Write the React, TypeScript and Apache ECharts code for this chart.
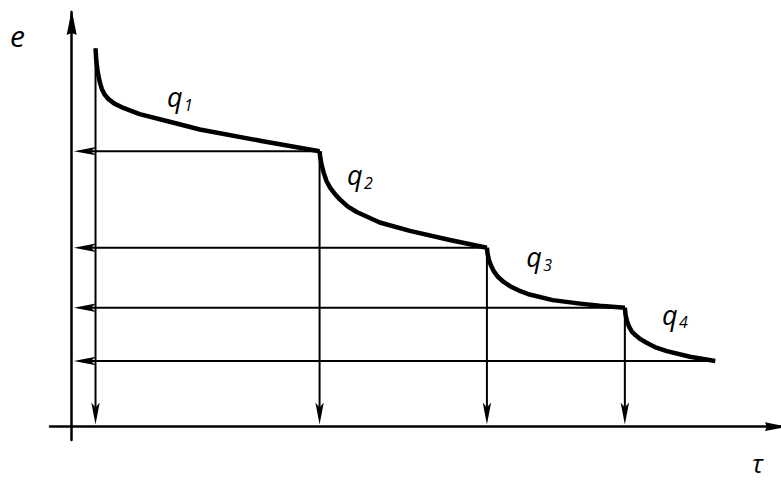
import React, { useEffect, useRef } from "react";
import * as echarts from "echarts";

// Curve segments q1..q4 as [τ, e] pairs (arbitrary units)
const segment1: [number, number][] = [
  [0.34, 5.41], [0.35, 5.25], [0.37, 5.08], [0.4, 4.93], [0.43, 4.83], [0.47, 4.75], [0.53, 4.68],
  [0.61, 4.62], [0.71, 4.57], [0.97, 4.47], [1.4, 4.36], [1.83, 4.25], [2.69, 4.09], [3.54, 3.94],
];
const segment2: [number, number][] = [
  [3.54, 3.94], [3.55, 3.85], [3.57, 3.74], [3.6, 3.63], [3.64, 3.51], [3.69, 3.42], [3.75, 3.34],
  [3.83, 3.25], [3.94, 3.15], [4.07, 3.07], [4.4, 2.92], [4.83, 2.8], [5.4, 2.67], [5.93, 2.56],
];
const segment3: [number, number][] = [
  [5.93, 2.56], [5.94, 2.47], [5.96, 2.38], [5.99, 2.3], [6.03, 2.22], [6.09, 2.14], [6.17, 2.07],
  [6.26, 2.01], [6.38, 1.95], [6.54, 1.89], [6.87, 1.81], [7.26, 1.76], [7.54, 1.73], [7.9, 1.7],
];
const segment4: [number, number][] = [
  [7.9, 1.7], [7.91, 1.6], [7.93, 1.51], [7.96, 1.43], [8.0, 1.36], [8.05, 1.31], [8.11, 1.26],
  [8.21, 1.2], [8.35, 1.13], [8.5, 1.08], [8.83, 1.0], [9.19, 0.94],
];

const arrowTipTau = 0.03;
const arrowTipE = 0.03;

const qLabelPos: [number, number][] = [[1.36, 4.72], [3.93, 3.6], [6.49, 2.43], [8.43, 1.61]];
const qSubscripts = ["1", "2", "3", "4"];

const FONT = '"Open Sans", "DejaVu Sans", sans-serif';

export default function App() {
  const ref = useRef<HTMLDivElement>(null);
  useEffect(() => {
    const chart = echarts.init(ref.current!, null, { renderer: "svg" });
    const segments = [segment1, segment2, segment3, segment4];
    const hArrows = segments.map((s) => {
      const end = s[s.length - 1];
      return [end[0], end[1], arrowTipTau, end[1]];
    });
    const vArrows = segments.map((s) => [s[0][0], s[0][1], s[0][0], arrowTipE]);

    const renderArrow = (params: any, api: any) => {
      const p1 = api.coord([api.value(0), api.value(1)]);
      const p2 = api.coord([api.value(2), api.value(3)]);
      const dx = p2[0] - p1[0];
      const dy = p2[1] - p1[1];
      const len = Math.hypot(dx, dy) || 1;
      const ux = dx / len, uy = dy / len;
      const nx = -uy, ny = ux;
      const L = 22, W = 4.2, notch = 17;
      const bx = p2[0] - ux * L, by = p2[1] - uy * L;
      const mx = p2[0] - ux * notch, my = p2[1] - uy * notch;
      return {
        type: "group",
        children: [
          { type: "line", shape: { x1: p1[0], y1: p1[1], x2: mx, y2: my }, style: { stroke: "#000", lineWidth: 2 } },
          {
            type: "polygon",
            shape: { points: [[p2[0], p2[1]], [bx + nx * W, by + ny * W], [mx, my], [bx - nx * W, by - ny * W]] },
            style: { fill: "#000" },
          },
        ],
      };
    };

    const arrowPath = "path://M5,0 L10,25 L5,23 L0,25 Z";

    const labelBase = {
      show: true,
      position: [0, 0],
      align: "left",
      verticalAlign: "middle",
      fontFamily: FONT,
      fontStyle: "italic",
      color: "#000",
      opacity: 1,
    };

    chart.setOption({
      animation: false,
      backgroundColor: "#fff",
      grid: { left: 50, right: 0, top: 12, bottom: 42 },
      xAxis: {
        type: "value",
        min: -0.31,
        max: 10.13,
        axisLine: {
          onZero: true,
          lineStyle: { color: "#000", width: 2.5 },
          symbol: ["none", arrowPath],
          symbolSize: [12, 22],
          symbolOffset: [0, -5],
        },
        axisTick: { show: false },
        axisLabel: { show: false },
        splitLine: { show: false },
      },
      yAxis: {
        type: "value",
        min: -0.19,
        max: 5.93,
        axisLine: {
          onZero: true,
          lineStyle: { color: "#000", width: 2.5 },
          symbol: ["none", arrowPath],
          symbolSize: [11, 25],
          symbolOffset: [0, -10.5],
        },
        axisTick: { show: false },
        axisLabel: { show: false },
        splitLine: { show: false },
      },
      graphic: [
        { type: "text", x: 10, y: 35, style: { text: "e", font: `italic 30px ${FONT}`, fill: "#000", textVerticalAlign: "middle" } },
        {
          type: "text",
          x: 752,
          y: 463,
          style: { text: "τ", font: `italic 26px ${FONT}`, fill: "#000", textVerticalAlign: "middle" },
        },
      ],
      series: [
        {
          type: "custom",
          name: "arrows",
          silent: true,
          renderItem: renderArrow,
          encode: { x: [0, 2], y: [1, 3] },
          data: [...hArrows, ...vArrows],
          z: 2,
        },
        ...segments.map((s, i) => ({
          type: "line",
          name: `q${i + 1}`,
          data: s,
          showSymbol: false,
          smooth: false,
          silent: true,
          lineStyle: { color: "#000", width: 4.5, join: "round" },
          z: 3,
        })),
        {
          type: "scatter",
          name: "qLabels",
          silent: true,
          symbolSize: 0,
          itemStyle: { opacity: 1 },
          data: qLabelPos,
          label: { ...labelBase, formatter: () => "q", fontSize: 27 },
          z: 4,
        },
        {
          type: "scatter",
          name: "qSubscripts",
          silent: true,
          symbolSize: 0,
          itemStyle: { opacity: 1 },
          data: qLabelPos,
          label: {
            ...labelBase,
            offset: [17, 8],
            formatter: (p: any) => qSubscripts[p.dataIndex],
            fontSize: 16,
          },
          z: 4,
        },
      ],
    });
    return () => chart.dispose();
  }, []);
  return <div ref={ref} style={{ position: "fixed", left: 0, top: 0, width: 781, height: 482 }} />;
}
